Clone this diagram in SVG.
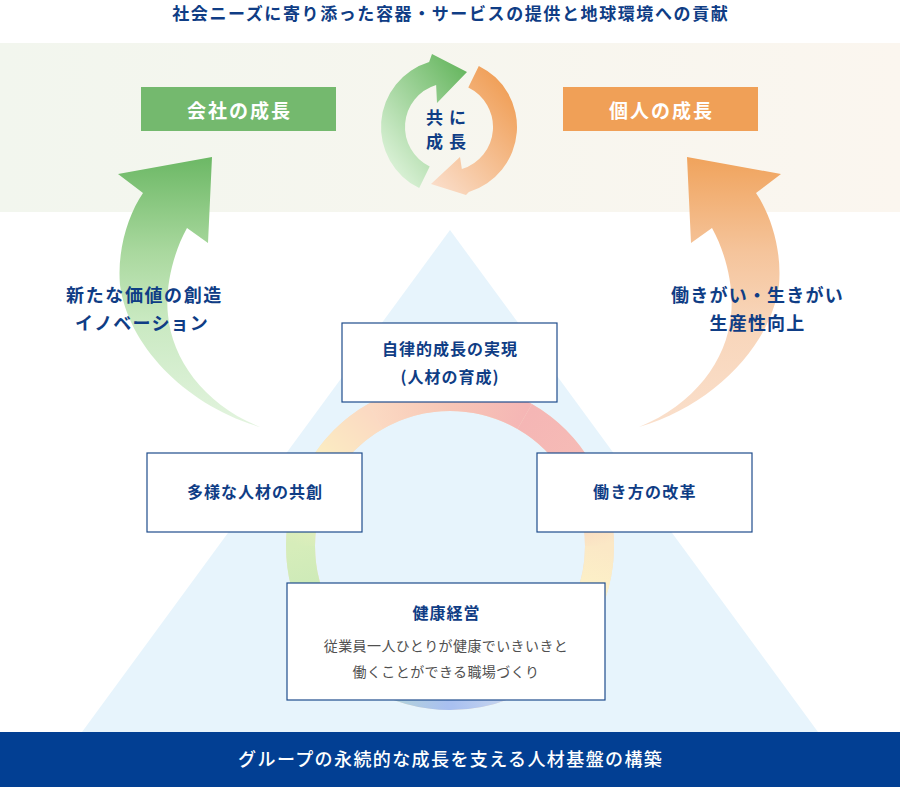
<svg xmlns="http://www.w3.org/2000/svg" width="900" height="787" viewBox="0 0 900 787">
<defs>
<style>
.t{font-family:"Noto Sans CJK JP","Noto Sans",sans-serif;text-anchor:middle}
.b{font-weight:700;fill:#0f3d85}
.box{fill:#ffffff;stroke:#1f4c8c;stroke-width:1.2}
.ring{fill:none;stroke-width:29}
</style>
<linearGradient id="band" x1="0" y1="0" x2="1" y2="0">
<stop offset="0" stop-color="#f2f6ee"/><stop offset="1" stop-color="#fbf6ef"/>
</linearGradient>
<linearGradient id="gBig" gradientUnits="userSpaceOnUse" x1="0" y1="157" x2="0" y2="427">
<stop offset="0" stop-color="#6cb865"/><stop offset="0.35" stop-color="#a9d89e"/><stop offset="0.6" stop-color="#c9e9c1"/><stop offset="1" stop-color="#e3f4df"/>
</linearGradient>
<linearGradient id="oBig" gradientUnits="userSpaceOnUse" x1="0" y1="157" x2="0" y2="427">
<stop offset="0" stop-color="#f0a35c"/><stop offset="0.35" stop-color="#f5c49b"/><stop offset="0.6" stop-color="#f8d5b9"/><stop offset="1" stop-color="#fadfcb"/>
</linearGradient>
<linearGradient id="gCyc" gradientUnits="userSpaceOnUse" x1="380" y1="150" x2="470" y2="80">
<stop offset="0" stop-color="#d8f0d4"/><stop offset="1" stop-color="#6ab863"/>
</linearGradient>
<linearGradient id="oCyc" gradientUnits="userSpaceOnUse" x1="518" y1="100" x2="430" y2="180">
<stop offset="0" stop-color="#f0a059"/><stop offset="1" stop-color="#fadcc7"/>
</linearGradient>
<linearGradient id="r1" gradientUnits="userSpaceOnUse" x1="450" y1="396.5" x2="524.75" y2="416.53"><stop offset="0" stop-color="#f7c6b6"/><stop offset="1" stop-color="#f5b6b5"/></linearGradient>
<linearGradient id="r2" gradientUnits="userSpaceOnUse" x1="524.75" y1="416.53" x2="579.47" y2="471.25"><stop offset="0" stop-color="#f5b6b5"/><stop offset="1" stop-color="#f6bcb6"/></linearGradient>
<linearGradient id="r3" gradientUnits="userSpaceOnUse" x1="579.47" y1="471.25" x2="599.5" y2="546"><stop offset="0" stop-color="#f6bcb6"/><stop offset="1" stop-color="#fbe8c6"/></linearGradient>
<linearGradient id="r4" gradientUnits="userSpaceOnUse" x1="599.5" y1="546" x2="579.47" y2="620.75"><stop offset="0" stop-color="#fbe8c6"/><stop offset="1" stop-color="#fdf7c8"/></linearGradient>
<linearGradient id="r5" gradientUnits="userSpaceOnUse" x1="579.47" y1="620.75" x2="524.75" y2="675.47"><stop offset="0" stop-color="#fdf7c8"/><stop offset="1" stop-color="#d6e0ee"/></linearGradient>
<linearGradient id="r6" gradientUnits="userSpaceOnUse" x1="524.75" y1="675.47" x2="450" y2="695.5"><stop offset="0" stop-color="#d6e0ee"/><stop offset="1" stop-color="#a9c0f0"/></linearGradient>
<linearGradient id="r7" gradientUnits="userSpaceOnUse" x1="450" y1="695.5" x2="375.25" y2="675.47"><stop offset="0" stop-color="#a9c0f0"/><stop offset="1" stop-color="#b9dcd0"/></linearGradient>
<linearGradient id="r8" gradientUnits="userSpaceOnUse" x1="375.25" y1="675.47" x2="320.53" y2="620.75"><stop offset="0" stop-color="#b9dcd0"/><stop offset="1" stop-color="#c6e8b6"/></linearGradient>
<linearGradient id="r9" gradientUnits="userSpaceOnUse" x1="320.53" y1="620.75" x2="300.5" y2="546"><stop offset="0" stop-color="#c6e8b6"/><stop offset="1" stop-color="#d6edba"/></linearGradient>
<linearGradient id="r10" gradientUnits="userSpaceOnUse" x1="300.5" y1="546" x2="320.53" y2="471.25"><stop offset="0" stop-color="#d6edba"/><stop offset="1" stop-color="#fbf0c2"/></linearGradient>
<linearGradient id="r11" gradientUnits="userSpaceOnUse" x1="320.53" y1="471.25" x2="375.25" y2="416.53"><stop offset="0" stop-color="#fbf0c2"/><stop offset="1" stop-color="#fbd9c2"/></linearGradient>
<linearGradient id="r12" gradientUnits="userSpaceOnUse" x1="375.25" y1="416.53" x2="450" y2="396.5"><stop offset="0" stop-color="#fbd9c2"/><stop offset="1" stop-color="#f7c6b6"/></linearGradient>
</defs>

<rect width="900" height="787" fill="#ffffff"/>

<g id="title">
<text class="t b" x="450.8" y="20" font-size="17" letter-spacing="1.6">社会ニーズに寄り添った容器・サービスの提供と地球環境への貢献</text>
</g>

<rect id="top-band" x="0" y="43" width="900" height="169" fill="url(#band)"/>

<polygon id="triangle" points="450,230 818,732 82,732" fill="#e7f4fc"/>

<g id="ring">
<circle cx="450" cy="546" r="149.5" class="ring" stroke="#f3e0cc"/>
<path class="ring" stroke="url(#r1)" d="M450,396.5 A149.5,149.5 0 0 1 524.75,416.53"/>
<path class="ring" stroke="url(#r2)" d="M524.75,416.53 A149.5,149.5 0 0 1 579.47,471.25"/>
<path class="ring" stroke="url(#r3)" d="M579.47,471.25 A149.5,149.5 0 0 1 599.5,546"/>
<path class="ring" stroke="url(#r4)" d="M599.5,546 A149.5,149.5 0 0 1 579.47,620.75"/>
<path class="ring" stroke="url(#r5)" d="M579.47,620.75 A149.5,149.5 0 0 1 524.75,675.47"/>
<path class="ring" stroke="url(#r6)" d="M524.75,675.47 A149.5,149.5 0 0 1 450,695.5"/>
<path class="ring" stroke="url(#r7)" d="M450,695.5 A149.5,149.5 0 0 1 375.25,675.47"/>
<path class="ring" stroke="url(#r8)" d="M375.25,675.47 A149.5,149.5 0 0 1 320.53,620.75"/>
<path class="ring" stroke="url(#r9)" d="M320.53,620.75 A149.5,149.5 0 0 1 300.5,546"/>
<path class="ring" stroke="url(#r10)" d="M300.5,546 A149.5,149.5 0 0 1 320.53,471.25"/>
<path class="ring" stroke="url(#r11)" d="M320.53,471.25 A149.5,149.5 0 0 1 375.25,416.53"/>
<path class="ring" stroke="url(#r12)" d="M375.25,416.53 A149.5,149.5 0 0 1 450,396.5"/>
</g>

<g id="connectors">
<path id="arrow-left" fill="url(#gBig)" d="M260,427 C185,405 128,345 120,285 C117,250 128,215 143,193 L118,174 L212,157 L208,243 L187,228 C172,255 165,290 168,315 C172,360 205,405 260,427 Z"/>
<path id="arrow-right" fill="url(#oBig)" transform="translate(899,0) scale(-1,1)" d="M260,427 C185,405 128,345 120,285 C117,250 128,215 143,193 L118,174 L212,157 L208,243 L187,228 C172,255 165,290 168,315 C172,360 205,405 260,427 Z"/>
<path id="cycle-green" fill="url(#gCyc)" d="M419.19,188.12 A68,68 0 0 1 429.12,61.97 L432,54 L467,72 L437,103 L436.13,84.92 A44,44 0 0 0 429.71,166.55 Z"/>
<path id="cycle-orange" fill="url(#oCyc)" d="M478.81,65.88 A68,68 0 0 1 468.88,192.03 L466,195 L431,184 L460,157 L461.87,169.08 A44,44 0 0 0 468.29,87.45 Z"/>
</g>

<g id="node-cycle">
<text class="t b" x="449" y="124" font-size="17" letter-spacing="6">共に</text>
<text class="t b" x="449" y="148" font-size="17" letter-spacing="6">成長</text>
</g>

<g id="node-company">
<rect x="141" y="87" width="195" height="44" fill="#74b96e"/>
<text class="t" x="239.5" y="118" font-size="19" font-weight="700" fill="#ffffff" letter-spacing="2">会社の成長</text>
</g>

<g id="node-personal">
<rect x="563" y="87" width="195" height="44" fill="#f0a057"/>
<text class="t" x="661.5" y="118" font-size="19" font-weight="700" fill="#ffffff" letter-spacing="2">個人の成長</text>
</g>

<g id="label-left">
<text class="t b" x="144.5" y="302" font-size="18" letter-spacing="1.6">新たな価値の創造</text>
<text class="t b" x="142" y="330" font-size="18" letter-spacing="1.2">イノベーション</text>
</g>

<g id="label-right">
<text class="t b" x="757.5" y="302" font-size="18" letter-spacing="1.2">働きがい・生きがい</text>
<text class="t b" x="757.5" y="330" font-size="18" letter-spacing="1.2">生産性向上</text>
</g>

<g id="node-growth">
<rect class="box" x="342" y="323" width="215" height="79"/>
<text class="t b" x="450" y="355" font-size="16" letter-spacing="1">自律的成長の実現</text>
<text class="t b" x="450" y="383" font-size="16" letter-spacing="1">(人材の育成)</text>
</g>

<g id="node-diversity">
<rect class="box" x="147" y="453" width="215" height="79"/>
<text class="t b" x="255" y="498" font-size="16" letter-spacing="1">多様な人材の共創</text>
</g>

<g id="node-workstyle">
<rect class="box" x="537" y="453" width="215" height="79"/>
<text class="t b" x="645" y="498" font-size="16" letter-spacing="1.3">働き方の改革</text>
</g>

<g id="node-health">
<rect class="box" x="287" y="583" width="318" height="117"/>
<text class="t b" x="446.5" y="619" font-size="16" letter-spacing="1">健康経営</text>
<text class="t" x="446" y="651" font-size="14" letter-spacing="0.4" fill="#505050">従業員一人ひとりが健康でいきいきと</text>
<text class="t" x="446" y="677" font-size="14" letter-spacing="0.4" fill="#505050">働くことができる職場づくり</text>
</g>

<g id="node-foundation">
<rect x="0" y="732" width="900" height="55" fill="#023f93"/>
<text class="t" x="450.7" y="766" font-size="18" font-weight="500" letter-spacing="1.4" fill="#ffffff">グループの永続的な成長を支える人材基盤の構築</text>
</g>
</svg>
